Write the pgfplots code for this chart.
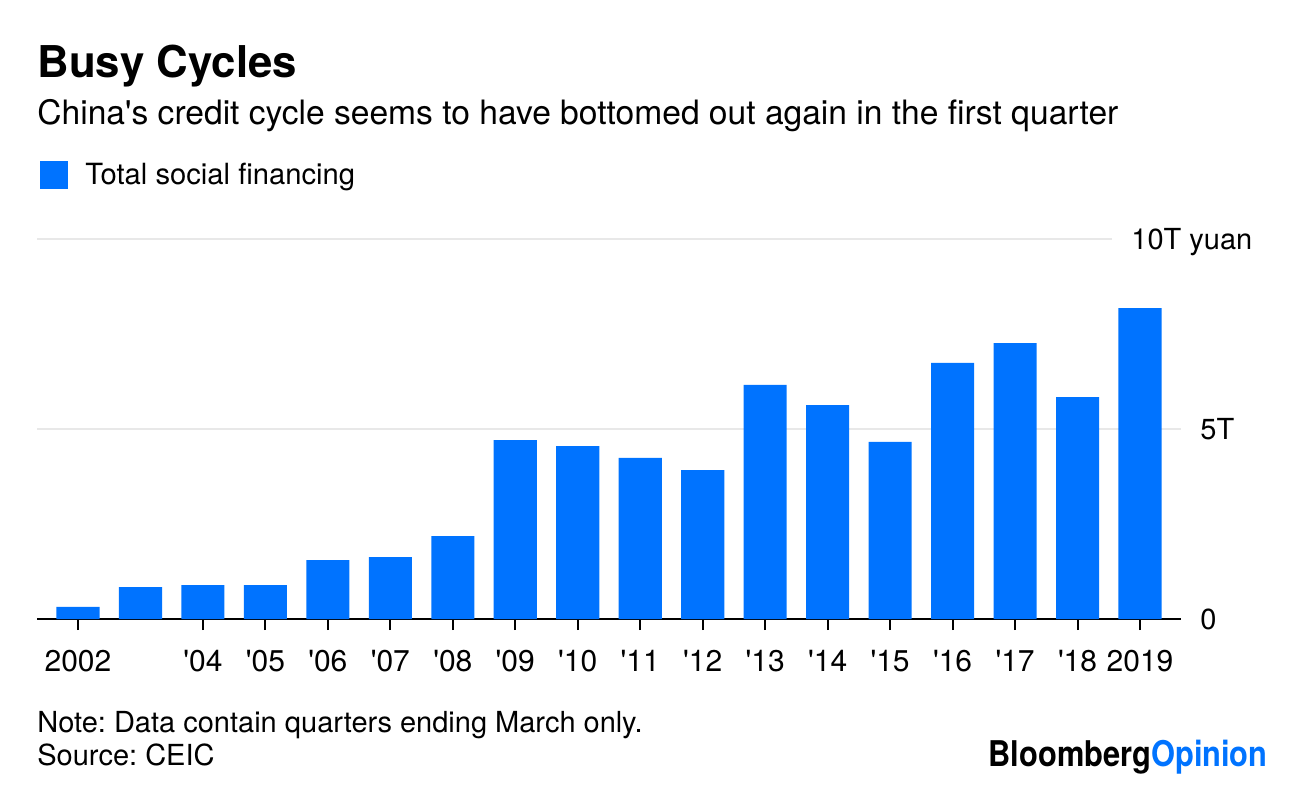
\documentclass[border=0pt]{standalone}
\usepackage{pgfplots}
\pgfplotsset{compat=1.18}
\usepackage{fontspec}
\setmainfont{TeX Gyre Heros}
\frenchspacing
\definecolor{barblue}{RGB}{0,115,255}
\definecolor{gridgray}{RGB}{232,232,232}
\pgfplotstableread{
idx value
0 0.32
1 0.84
2 0.89
3 0.89
4 1.55
5 1.63
6 2.18
7 4.71
8 4.55
9 4.24
10 3.92
11 6.16
12 5.63
13 4.66
14 6.74
15 7.26
16 5.84
17 8.18
}\datatable
\begin{document}
\frenchspacing
\begin{tikzpicture}
\path[use as bounding box] (0,0) rectangle (648pt,394pt);
% titles
\node[anchor=base west, inner sep=0pt, font=\fontsize{21.9pt}{24pt}\selectfont\bfseries] at (18.5pt,355pt) {Busy Cycles};
\node[anchor=base west, inner sep=0pt, font=\fontsize{16.8pt}{19pt}\selectfont] at (18.5pt,331.5pt) {China\textquotesingle s credit cycle seems to have bottomed out again in the first quarter};
% legend
\fill[barblue] (20pt,299.5pt) rectangle (34pt,313.5pt);
\node[anchor=base west, inner sep=0pt, font=\fontsize{14.6pt}{17pt}\selectfont] at (42.5pt,301.5pt) {Total social financing};
\begin{axis}[
  at={(18.5pt,84.5pt)}, anchor=south west,
  scale only axis, width=572pt, height=190pt,
  xmin=-0.656, xmax=17.656, ymin=0, ymax=10,
  hide y axis,
  axis x line*=bottom,
  x axis line style={black, line width=1pt, -},
  xtick={0,2,3,4,5,6,7,8,9,10,11,12,13,14,15,16,17},
  xticklabels={2002,\textquotesingle04,\textquotesingle05,\textquotesingle06,\textquotesingle07,\textquotesingle08,\textquotesingle09,\textquotesingle10,\textquotesingle11,\textquotesingle12,\textquotesingle13,\textquotesingle14,\textquotesingle15,\textquotesingle16,\textquotesingle17,\textquotesingle18,2019},
  xtick align=outside, xtick pos=bottom, major tick length=5.5pt,
  xtick style={black, line width=1pt},
  xticklabel style={font=\fontsize{15pt}{17pt}\selectfont, anchor=base, yshift=-20.5pt},
  clip=false,
]
\draw[gridgray, line width=1pt] (axis cs:-0.656,5) -- (axis cs:17.656,5);
\draw[gridgray, line width=1pt] (axis cs:-0.656,10) -- (axis cs:16.55,10);
\addplot[ybar, bar width=0.69, fill=barblue, draw=none] table[x=idx, y=value] {\datatable};
\end{axis}
% y labels
\node[anchor=base west, inner sep=0pt, font=\fontsize{14.5pt}{17pt}\selectfont] at (600pt,79.3pt) {0};
\node[anchor=base west, inner sep=0pt, font=\fontsize{14.5pt}{17pt}\selectfont] at (600pt,174.3pt) {5T};
\node[anchor=base west, inner sep=0pt, font=\fontsize{14.5pt}{17pt}\selectfont] at (565.5pt,269.3pt) {10T yuan};
% notes
\node[anchor=base west, inner sep=0pt, font=\fontsize{14.5pt}{17pt}\selectfont] at (18.5pt,28pt) {Note: Data contain quarters ending March only.};
\node[anchor=base west, inner sep=0pt, font=\fontsize{14.5pt}{17pt}\selectfont] at (18.5pt,11.5pt) {Source: CEIC};
\node[anchor=base east, inner sep=0pt, font=\fontsize{15.4pt}{17pt}\selectfont\bfseries] at (634pt,11pt) {\scalebox{1}[1.15]{Bloomberg\textcolor{barblue}{Opinion}}};
\end{tikzpicture}
\end{document}
